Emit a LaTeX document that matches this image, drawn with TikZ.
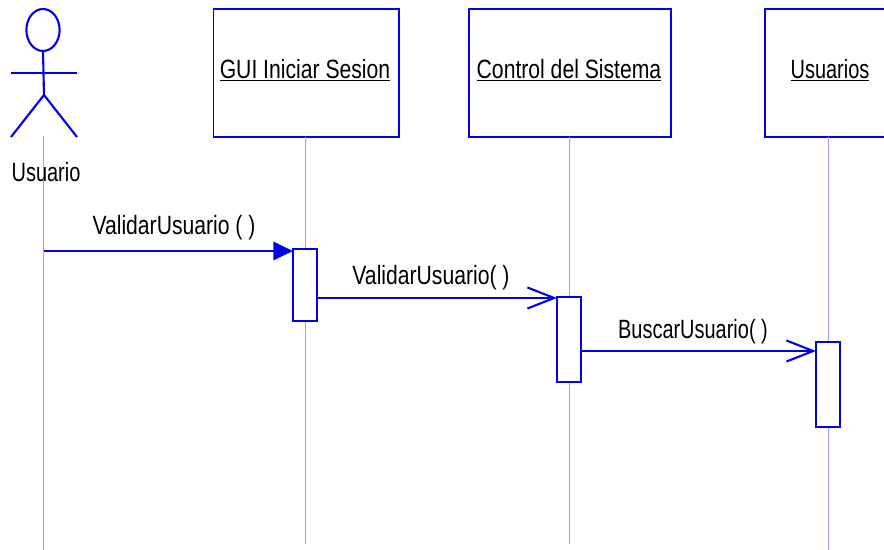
\documentclass[tikz,border=0pt]{standalone}
\usepackage{fontspec}
\setmainfont[FakeStretch=0.8]{Liberation Sans}
\newfontfamily\estrecha[FakeStretch=0.755]{Liberation Sans}
\usetikzlibrary{arrows.meta,shapes.geometric}
\definecolor{umlblue}{RGB}{0,0,245}
\definecolor{lifeblue}{RGB}{160,160,252}
\begin{document}
\begin{tikzpicture}[
        x=0.025cm, y=-0.025cm,
        every node/.style={font=\fontsize{18.8}{22}\selectfont, inner sep=0pt, outer sep=0pt},
        objeto/.style={draw=umlblue, line width=1.42pt, rectangle, anchor=north west, minimum height=3.175cm},
        activacion/.style={draw=umlblue, line width=1.5pt, rectangle, fill=white, anchor=north, minimum width=0.6cm},
        actor/.style={draw=umlblue, line width=1.5pt},
        vida/.style={draw=lifeblue, line width=0.7pt},
        llamada/.style={draw=umlblue, line width=1.7pt, -{Straight Barb[length=19pt, width=15pt, line width=1.5pt]}},
        sincrona/.style={draw=umlblue, line width=1.7pt, -{Triangle[length=14pt, width=13pt, fill=umlblue]}}
    ]
        \useasboundingbox (0,0) rectangle (884,550);

        % Objetos
        \node[objeto, minimum width=4.63cm] (gui) at (213.5,9.5) {};
        \node[objeto, minimum width=5.05cm] (control) at (468.5,9.5) {};
        \node[objeto, minimum width=3.2cm] (usuarios) at (764.5,9.5) {};
        \node at (305,70) {\underline{GUI Iniciar Sesion}};
        \node at (569,70) {\underline{Control del Sistema}};
        \node at (830,70) {\estrecha\underline{Usuarios}};

        % Lineas de vida
        \coordinate (finactor) at (43,550);
        \coordinate (fingui) at (305,544);
        \coordinate (fincontrol) at (569,544);
        \coordinate (finusuarios) at (828,550);
        \coordinate (iniactor) at (43,136);
        \draw[vida] (iniactor) -- (finactor);
        \draw[vida] (gui.south -| fingui) -- (fingui);
        \draw[vida] (control.south -| fincontrol) -- (fincontrol);
        \draw[vida] (usuarios.south -| finusuarios) -- (finusuarios);

        % Actor
        \node[actor, ellipse, minimum width=0.83cm, minimum height=1.05cm] (cabeza) at (43,30) {};
        \coordinate (cadera) at (44,95);
        \coordinate (brazoi) at (11,73);
        \coordinate (brazod) at (77,73);
        \coordinate (piei) at (11,137);
        \coordinate (pied) at (77,137);
        \draw[actor] (cabeza.south) -- (cadera);
        \draw[actor] (brazoi) -- (brazod);
        \draw[actor] (piei) -- (cadera) -- (pied);
        \node (usuario) at (46,172) {\estrecha Usuario};

        % Activaciones
        \node[activacion, minimum height=1.8cm] (act1) at (305,249) {};
        \node[activacion, minimum height=2.125cm] (act2) at (569,297) {};
        \node[activacion, minimum height=2.125cm] (act3) at (828,342) {};

        % Mensajes
        \coordinate (origen) at (44,251);
        \draw[sincrona] (origen) -- (act1.west |- origen);
        \draw[llamada] (act1.east |- 0,298) -- (act2.west |- 0,298);
        \draw[llamada] (act2.east |- 0,351) -- (act3.west |- 0,351);
        \node (msg1) at (174,228) {ValidarUsuario ( )};
        \node (msg2) at (431,278) {ValidarUsuario( )};
        \node (msg3) at (693,332) {\estrecha BuscarUsuario( )};
    \end{tikzpicture}
\end{document}
